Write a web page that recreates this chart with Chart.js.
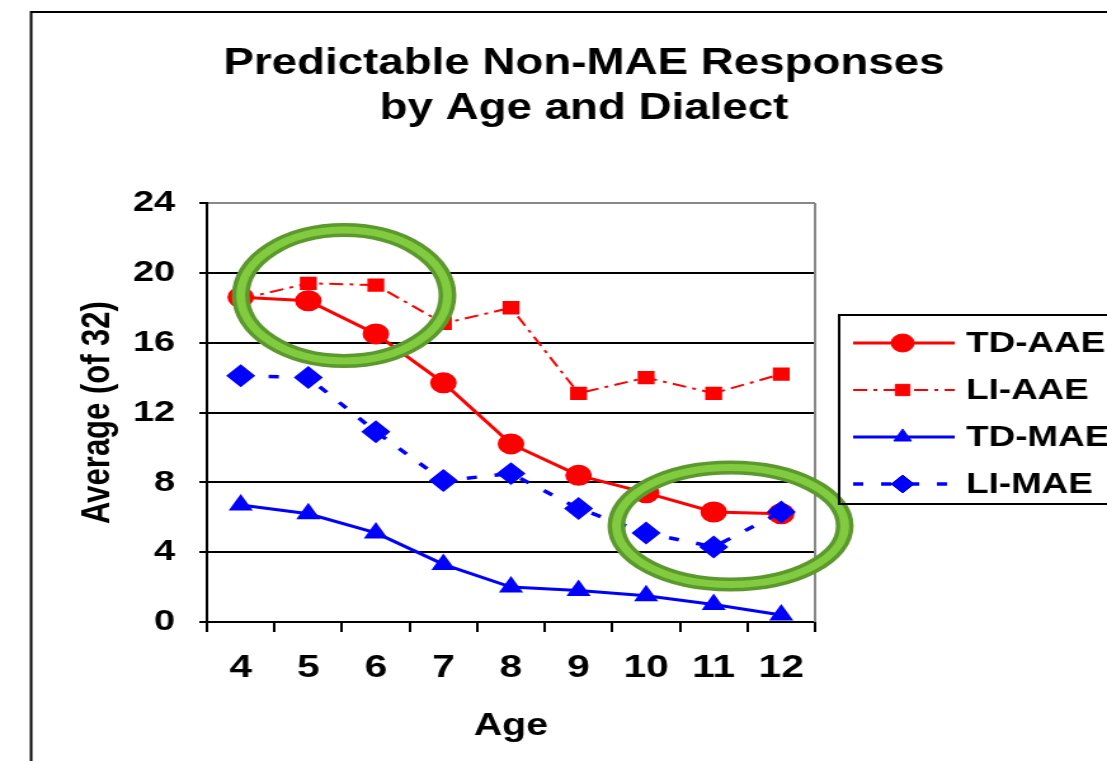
<!DOCTYPE html>
<html>
<head>
<meta charset="utf-8">
<script src="https://cdn.jsdelivr.net/npm/chart.js@4"></script>
<style>
  html, body { margin: 0; padding: 0; background: #fff; overflow: hidden; }
  /* the source picture is stretched sideways, so the canvas is drawn narrower and widened by css */
  #chart { display: block; width: 1107px; height: 761px; }
</style>
</head>
<body>
<canvas id="chart" width="872" height="761" style="width:1107px;height:761px"></canvas>
<script>
// values
const ages = ['4', '5', '6', '7', '8', '9', '10', '11', '12'];
const tdAae = [18.6, 18.4, 16.5, 13.7, 10.2, 8.4, 7.4, 6.3, 6.2];
const liAae = [18.5, 19.4, 19.3, 17.1, 18.0, 13.1, 14.0, 13.1, 14.2];
const tdMae = [6.7, 6.2, 5.1, 3.3, 2.0, 1.8, 1.5, 1.0, 0.4];
const liMae = [14.1, 14.0, 10.9, 8.1, 8.5, 6.5, 5.1, 4.3, 6.3];
const yMin = 0, yMax = 24, yStep = 4;

const titleLines = ['Predictable Non-MAE Responses', 'by Age and Dialect'];

// green rings, in axis units (category index, value)
const rings = [
    { x: 1.53, y: 18.7, rx: 1.53, ry: 3.75 },
    { x: 7.25, y: 5.5, rx: 1.69, ry: 3.35 }
];

const FONT = '"Liberation Sans", Arial, Helvetica, sans-serif';
Chart.defaults.font.family = FONT;
Chart.defaults.color = '#000';

function drawMarker(ctx, style, r, x, y, color) {
    if (Chart.helpers && Chart.helpers.drawPoint) {
        ctx.save();
        ctx.fillStyle = color;
        ctx.strokeStyle = color;
        ctx.lineWidth = 1;
        Chart.helpers.drawPoint(ctx, { pointStyle: style, radius: r, borderWidth: 1 }, x, y);
        ctx.restore();
        return;
    }
    ctx.beginPath();
    ctx.arc(x, y, r, 0, Math.PI * 2);
    ctx.fillStyle = color;
    ctx.fill();
}

const decor = {
    id: 'decor',
    beforeDraw(chart) {
        const ctx = chart.ctx;
        ctx.save();
        ctx.fillStyle = '#fff';
        ctx.fillRect(0, 0, chart.width, chart.height);
        // outer frame (only top and left show)
        ctx.strokeStyle = '#000';
        ctx.lineWidth = 2;
        ctx.beginPath();
        ctx.moveTo(24.5, chart.height + 5);
        ctx.lineTo(24.5, 12);
        ctx.lineTo(chart.width + 5, 12);
        ctx.stroke();
        ctx.restore();
    },
    beforeDatasetsDraw(chart) {
        const a = chart.chartArea, ctx = chart.ctx;
        ctx.save();
        ctx.strokeStyle = '#888';
        ctx.lineWidth = 2;
        ctx.beginPath();
        ctx.moveTo(a.right, a.top);
        ctx.lineTo(a.right, a.bottom);
        ctx.stroke();
        ctx.restore();
    },
    afterDatasetsDraw(chart) {
        const ctx = chart.ctx, xs = chart.scales.x, ys = chart.scales.y;
        ctx.save();
        rings.forEach(function (g) {
            const cx = xs.getPixelForValue(g.x);
            const cy = ys.getPixelForValue(g.y);
            const rx = xs.getPixelForValue(g.x + g.rx) - cx;
            const ry = cy - ys.getPixelForValue(g.y + g.ry);
            ctx.beginPath();
            ctx.ellipse(cx, cy, rx, ry, 0, 0, Math.PI * 2);
            ctx.strokeStyle = '#5c982e';
            ctx.lineWidth = 14;
            ctx.stroke();
            ctx.strokeStyle = '#80cb3e';
            ctx.lineWidth = 7;
            ctx.stroke();
        });
        ctx.restore();
    },
    afterDraw(chart) {
        const ctx = chart.ctx;
        ctx.save();
        // title
        ctx.fillStyle = '#000';
        ctx.textAlign = 'center';
        ctx.textBaseline = 'alphabetic';
        ctx.font = 'bold 36px ' + FONT;
        ctx.fillText(titleLines[0], 460, 74);
        ctx.fillText(titleLines[1], 460, 119);

        // legend box
        ctx.strokeStyle = '#000';
        ctx.lineWidth = 2;
        ctx.strokeRect(661, 315, 240, 189);
        const rowY = [343, 390, 437, 484];
        chart.data.datasets.forEach(function (ds, i) {
            const y = rowY[i];
            ctx.save();
            ctx.strokeStyle = ds.borderColor;
            ctx.lineWidth = ds.borderWidth;
            ctx.setLineDash(ds.borderDash || []);
            ctx.beginPath();
            ctx.moveTo(672, y);
            ctx.lineTo(752, y);
            ctx.stroke();
            ctx.restore();
            drawMarker(ctx, ds.pointStyle, ds.pointRadius, 711, y, ds.backgroundColor);
            ctx.fillStyle = '#000';
            ctx.textAlign = 'left';
            ctx.textBaseline = 'middle';
            ctx.font = 'bold 29px ' + FONT;
            ctx.fillText(ds.label, 761, y + 1);
        });
        ctx.restore();
    }
};

new Chart(document.getElementById('chart').getContext('2d'), {
    type: 'line',
    data: {
        labels: ages,
        datasets: [
            {
                label: 'TD-AAE', data: tdAae, order: 4,
                borderColor: '#ff0000', backgroundColor: '#ff0000', borderWidth: 3,
                pointStyle: 'circle', pointRadius: 9
            },
            {
                label: 'LI-AAE', data: liAae, order: 3,
                borderColor: '#ff0000', backgroundColor: '#ff0000', borderWidth: 2,
                borderDash: [11, 5, 3, 5],
                pointStyle: 'rect', pointRadius: 8
            },
            {
                label: 'TD-MAE', data: tdMae, order: 2,
                borderColor: '#0000ff', backgroundColor: '#0000ff', borderWidth: 3,
                pointStyle: 'triangle', pointRadius: 8
            },
            {
                label: 'LI-MAE', data: liMae, order: 1,
                borderColor: '#0000ff', backgroundColor: '#0000ff', borderWidth: 3.5,
                borderDash: [8, 14],
                pointStyle: 'rectRot', pointRadius: 9
            }
        ]
    },
    options: {
        responsive: false,
        animation: false,
        devicePixelRatio: 1,
        layout: { padding: { top: 203, left: 40, right: 230, bottom: 0 } },
        elements: {
            line: { tension: 0, fill: false },
            point: { borderWidth: 1, hoverRadius: 9 }
        },
        plugins: {
            legend: { display: false },
            title: { display: false },
            tooltip: { enabled: false }
        },
        scales: {
            x: {
                offset: true,
                afterFit: function (s) { s.height = 139; },
                grid: { offset: true, drawOnChartArea: false, color: '#000', lineWidth: 2, tickLength: 10 },
                border: { color: '#000', width: 2 },
                ticks: { font: { size: 32, weight: 'bold' }, color: '#000', padding: 17, maxRotation: 0, autoSkip: false },
                title: { display: true, text: 'Age', font: { size: 31, weight: 'bold' }, color: '#000', padding: { top: 0, bottom: 16 } }
            },
            y: {
                min: yMin, max: yMax,
                afterFit: function (s) { s.width = 123; },
                grid: {
                    color: function (c) { return c.tick && c.tick.value === yMax ? '#888' : '#000'; },
                    tickColor: '#000', lineWidth: 2, tickLength: 6
                },
                border: { color: '#000', width: 2 },
                ticks: { stepSize: yStep, font: { size: 30, weight: 'bold' }, color: '#000', padding: 19 },
                title: { display: true, text: 'Average (of 32)', font: { size: 31, weight: 'bold' }, color: '#000', padding: { top: 19, bottom: 0 } }
            }
        }
    },
    plugins: [decor]
});
</script>
</body>
</html>
